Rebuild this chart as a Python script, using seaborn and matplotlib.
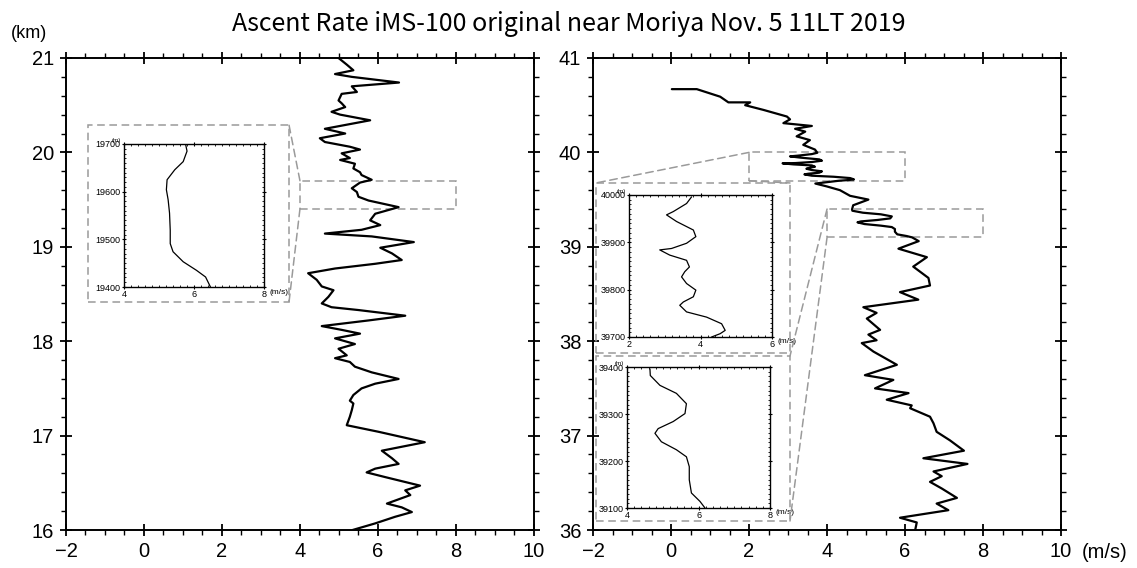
"""
Ascent rate profile, iMS-100 near Moriya, 2019-11-05 11LT
"""

import numpy as np
import pandas as pd
import seaborn as sns
import matplotlib
matplotlib.use('Agg')
import matplotlib.pyplot as plt
from matplotlib.patches import Rectangle, ConnectionPatch
from matplotlib.ticker import MultipleLocator

sns.set_style('ticks')
plt.rcParams['font.family'] = ['Liberation Sans', 'DejaVu Sans']
plt.rcParams['text.color'] = 'black'
plt.rcParams['axes.edgecolor'] = 'black'
plt.rcParams['xtick.color'] = 'black'
plt.rcParams['ytick.color'] = 'black'

# ---- data ----
# left panel: 16-21 km
left_alt = [21.00, 20.93, 20.87, 20.83, 20.80, 20.74, 20.70, 20.64, 20.62, 20.55,
            20.52, 20.48, 20.43, 20.40, 20.34, 20.25, 20.20, 20.15, 20.11, 20.06,
            20.03, 19.99, 19.94, 19.92, 19.88, 19.83, 19.79, 19.76, 19.71, 19.68,
            19.62, 19.58, 19.53, 19.49, 19.42, 19.35, 19.28, 19.23, 19.18, 19.14,
            19.11, 19.05, 18.99, 18.93, 18.86, 18.82, 18.77, 18.72, 18.65, 18.58,
            18.54, 18.47, 18.40, 18.36, 18.33, 18.27, 18.22, 18.16, 18.12, 18.08,
            18.03, 17.97, 17.92, 17.85, 17.82, 17.78, 17.73, 17.67, 17.60, 17.55,
            17.50, 17.43, 17.37, 17.34, 17.27, 17.20, 17.11, 17.04, 16.93, 16.84,
            16.76, 16.70, 16.65, 16.61, 16.56, 16.47, 16.42, 16.37, 16.28, 16.24,
            16.19, 16.14, 16.07, 16.00]
left_rate = [4.99, 5.20, 5.37, 4.90, 5.33, 6.54, 5.33, 5.46, 5.07, 4.99,
             5.07, 5.16, 4.81, 5.03, 5.80, 4.64, 5.16, 4.51, 4.64, 5.28,
             5.54, 5.07, 5.28, 5.03, 5.41, 5.37, 5.54, 5.58, 5.84, 5.54,
             5.33, 5.46, 5.50, 5.76, 6.53, 5.93, 5.80, 6.06, 5.58, 4.64,
             5.84, 6.92, 6.06, 6.36, 6.61, 5.93, 4.90, 4.21, 4.43, 4.56,
             4.86, 4.73, 4.56, 4.81, 5.50, 6.70, 5.76, 4.56, 5.07, 5.54,
             4.90, 5.41, 4.99, 5.20, 4.90, 5.28, 5.41, 5.84, 6.53, 5.93,
             5.58, 5.37, 5.28, 5.37, 5.33, 5.28, 5.20, 6.02, 7.20, 6.10,
             6.36, 6.53, 5.93, 5.71, 6.19, 7.08, 6.70, 6.83, 6.23, 6.61,
             6.87, 6.44, 5.93, 5.35]

# right panel: 36-41 km
right_alt = [40.67, 40.67, 40.59, 40.53, 40.53, 40.50, 40.45, 40.38, 40.35, 40.31,
             40.28, 40.25, 40.22, 40.17, 40.13, 40.08, 40.03,
             39.996, 39.982, 39.965, 39.958, 39.944, 39.926, 39.912, 39.898, 39.887,
             39.884, 39.873, 39.862, 39.848, 39.838, 39.827, 39.813, 39.799, 39.785,
             39.774, 39.767, 39.753, 39.742, 39.728, 39.714, 39.707, 39.700,
             39.67, 39.64, 39.60, 39.54, 39.50, 39.44,
             39.396, 39.382, 39.361, 39.344, 39.322, 39.301, 39.284, 39.269, 39.259,
             39.241, 39.224, 39.209, 39.188, 39.160, 39.132, 39.114, 39.100,
             39.06, 38.98, 38.89, 38.79, 38.67, 38.59, 38.52, 38.44, 38.36, 38.30,
             38.24, 38.12, 38.07, 38.01, 37.98, 37.89, 37.75, 37.64, 37.59, 37.50,
             37.45, 37.38, 37.32, 37.29, 37.20, 37.13, 37.04, 36.95, 36.84, 36.76,
             36.70, 36.62, 36.57, 36.51, 36.44, 36.34, 36.28, 36.21, 36.13, 36.08,
             36.00]
right_rate = [0.02, 0.66, 1.26, 1.47, 2.03, 1.90, 2.37, 2.97, 3.05, 2.88,
              3.61, 3.18, 3.44, 3.22, 3.56, 3.39, 3.69,
              3.75, 3.61, 3.24, 3.05, 3.33, 3.80, 3.87, 3.61, 3.19,
              2.86, 3.14, 3.61, 3.69, 3.56, 3.47, 3.61, 3.87, 3.80,
              3.52, 3.42, 3.61, 4.17, 4.59, 4.69, 4.55, 4.31,
              3.70, 3.99, 4.33, 4.59, 5.06, 4.67,
              4.64, 4.65, 4.92, 5.38, 5.66, 5.62, 5.29, 4.87, 4.78,
              4.96, 5.38, 5.66, 5.74, 5.74, 5.80, 6.04, 6.18,
              6.35, 5.83, 6.56, 6.21, 6.60, 6.64, 5.87, 6.34, 4.93, 5.27,
              5.02, 5.36, 5.06, 5.27, 4.89, 5.19, 5.79, 4.97, 5.70, 5.23,
              6.09, 5.53, 6.17, 6.13, 6.64, 6.73, 6.81, 7.15, 7.51, 6.47,
              7.60, 6.73, 6.94, 6.64, 6.94, 7.33, 6.81, 7.11, 5.87, 6.30,
              6.26]

# insets (m)
ins1_alt = [19699, 19685, 19663, 19646, 19625, 19604, 19583, 19555, 19519, 19491,
            19474, 19453, 19435, 19421, 19400]
ins1_rate = [5.76, 5.80, 5.69, 5.45, 5.23, 5.21, 5.26, 5.30, 5.32, 5.32,
             5.40, 5.69, 6.07, 6.33, 6.47]

ins2_alt = [39996, 39982, 39965, 39958, 39944, 39926, 39912, 39898, 39887, 39884,
            39873, 39862, 39848, 39838, 39827, 39813, 39799, 39785, 39774, 39767,
            39753, 39742, 39728, 39714, 39707, 39700]
ins2_rate = [3.75, 3.61, 3.24, 3.05, 3.33, 3.80, 3.87, 3.61, 3.19, 2.86,
             3.14, 3.61, 3.69, 3.56, 3.47, 3.61, 3.87, 3.80, 3.52, 3.42,
             3.61, 4.17, 4.59, 4.69, 4.55, 4.31]

ins3_alt = [39396, 39382, 39361, 39344, 39322, 39301, 39284, 39269, 39259, 39241,
            39224, 39209, 39188, 39160, 39132, 39114, 39100]
ins3_rate = [4.64, 4.65, 4.92, 5.38, 5.66, 5.62, 5.29, 4.87, 4.78, 4.96,
             5.38, 5.66, 5.74, 5.74, 5.80, 6.04, 6.18]

# inset limits: (xmin, xmax), (ymin, ymax) in m
ins1_xlim, ins1_ylim = (4, 8), (19400, 19700)
ins2_xlim, ins2_ylim = (2, 6), (39700, 40000)
ins3_xlim, ins3_ylim = (4, 8), (39100, 39400)

DASH = dict(color='#9a9a9a', lw=1.1, linestyle=(0, (5, 3)))


def style_main(ax, ylim, yticks):
    ax.set_xlim(-2, 10)
    ax.set_ylim(*ylim)
    ax.set_xticks(np.arange(-2, 11, 2))
    ax.set_yticks(yticks)
    ax.xaxis.set_minor_locator(MultipleLocator(0.5))
    ax.yaxis.set_minor_locator(MultipleLocator(0.2))
    ax.tick_params(which='major', direction='inout', length=9, width=1.3,
                   top=True, right=True, labelsize=14.5, pad=4)
    ax.tick_params(which='minor', direction='out', length=3.5, width=1.0,
                   top=True, right=True)
    for s in ax.spines.values():
        s.set_linewidth(1.4)
    ax.set_xlabel('')
    ax.set_ylabel('')


def style_inset(ax, xlim, ylim):
    ax.set_xlim(*xlim)
    ax.set_ylim(*ylim)
    ax.set_xticks(np.arange(xlim[0], xlim[1] + 1, 2))
    ax.set_yticks(np.arange(ylim[0], ylim[1] + 1, 100))
    ax.xaxis.set_minor_locator(MultipleLocator(0.2))
    ax.yaxis.set_minor_locator(MultipleLocator(10))
    ax.tick_params(which='major', direction='inout', length=3, width=0.8,
                   top=True, right=True, labelsize=6.5, pad=1)
    ax.tick_params(which='minor', direction='in', length=1.5, width=0.6,
                   top=True, right=True)
    for s in ax.spines.values():
        s.set_linewidth(1.0)
    ax.set_xlabel('')
    ax.set_ylabel('')
    ax.text(-0.02, 1.01, '(m)', transform=ax.transAxes, fontsize=4.5,
            ha='right', va='bottom')
    ax.text(1.04, -0.035, '(m/s)', transform=ax.transAxes, fontsize=6,
            ha='left', va='center')


def zoom_link(fig, ax_main, xlim, ylim_m, box, pairs):
    """dashed box on main axes + dashed outer frame + connecting lines"""
    y0, y1 = ylim_m[0] / 1000, ylim_m[1] / 1000
    ax_main.add_patch(Rectangle((xlim[0], y0), xlim[1] - xlim[0], y1 - y0,
                                fill=False, zorder=1, **DASH))
    fig.patches.append(Rectangle((box[0], box[1]), box[2], box[3], fill=False,
                                 transform=fig.transFigure, zorder=1, **DASH))
    corners = {'tl': (box[0], box[1] + box[3]), 'tr': (box[0] + box[2], box[1] + box[3]),
               'bl': (box[0], box[1]), 'br': (box[0] + box[2], box[1])}
    for (xd, yd), c in pairs:
        cp = ConnectionPatch(xyA=(xd, yd), coordsA=ax_main.transData,
                             xyB=corners[c], coordsB=fig.transFigure,
                             zorder=1, **DASH)
        fig.add_artist(cp)


fig = plt.figure(figsize=(11.37, 5.68), dpi=100)

ax1 = fig.add_axes([0.0580, 0.0669, 0.4116, 0.8310])
ax2 = fig.add_axes([0.5216, 0.0669, 0.4116, 0.8310])

df_l = pd.DataFrame({'rate': left_rate, 'alt': left_alt})
df_r = pd.DataFrame({'rate': right_rate, 'alt': right_alt})
sns.lineplot(data=df_l, x='rate', y='alt', sort=False, estimator=None,
             color='black', lw=1.6, ax=ax1, zorder=3)
sns.lineplot(data=df_r, x='rate', y='alt', sort=False, estimator=None,
             color='black', lw=1.6, ax=ax2, zorder=3)

style_main(ax1, (16, 21), np.arange(16, 22, 1))
style_main(ax2, (36, 41), np.arange(36, 42, 1))

ax2.text(1.045, -0.047, '(m/s)', transform=ax2.transAxes, fontsize=14.5,
         ha='left', va='center')
fig.text(0.010, 1 - 33 / 568, '(km)', fontsize=13, ha='left', va='center')
fig.text(0.5, 1 - 24 / 568, 'Ascent Rate iMS-100 original near Moriya Nov. 5 11LT 2019',
         fontsize=18, ha='center', va='center',
         family=['Noto Sans CJK JP', 'DejaVu Sans'])

# insets
box1 = [0.0774, 0.4683, 0.1768, 0.3116]
box2 = [0.5242, 0.3786, 0.1706, 0.2993]
box3 = [0.5242, 0.0827, 0.1706, 0.2905]

in1 = fig.add_axes([0.1091, 0.4947, 0.1231, 0.2518])
in2 = fig.add_axes([0.5532, 0.4067, 0.1258, 0.2500])
in3 = fig.add_axes([0.5515, 0.1056, 0.1258, 0.2482])

for ax_in, r, a, xl, yl in [(in1, ins1_rate, ins1_alt, ins1_xlim, ins1_ylim),
                             (in2, ins2_rate, ins2_alt, ins2_xlim, ins2_ylim),
                             (in3, ins3_rate, ins3_alt, ins3_xlim, ins3_ylim)]:
    d = pd.DataFrame({'rate': r, 'alt': a})
    sns.lineplot(data=d, x='rate', y='alt', sort=False, estimator=None,
                 color='black', lw=0.9, ax=ax_in)
    style_inset(ax_in, xl, yl)

zoom_link(fig, ax1, ins1_xlim, ins1_ylim, box1,
          [((ins1_xlim[0], ins1_ylim[1] / 1000), 'tr'),
           ((ins1_xlim[0], ins1_ylim[0] / 1000), 'br')])
zoom_link(fig, ax2, ins2_xlim, ins2_ylim, box2,
          [((ins2_xlim[0], ins2_ylim[1] / 1000), 'tl'),
           ((ins2_xlim[0], ins2_ylim[0] / 1000), 'tr')])
zoom_link(fig, ax2, ins3_xlim, ins3_ylim, box3,
          [((ins3_xlim[0], ins3_ylim[1] / 1000), 'tr'),
           ((ins3_xlim[0], ins3_ylim[0] / 1000), 'br')])

fig.savefig('out.png', dpi=100)
